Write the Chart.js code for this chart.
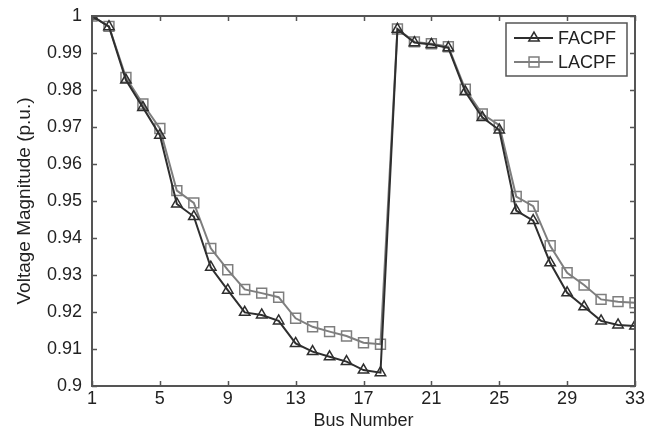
<!DOCTYPE html>
<html>
<head>
<meta charset="utf-8">
<script src="https://cdn.jsdelivr.net/npm/chart.js@4/dist/chart.umd.min.js"></script>
<style>
  html, body { margin: 0; padding: 0; background: #fff; }
  #wrap { width: 654px; height: 433px; }
</style>
</head>
<body>
<div id="wrap"><canvas id="chart"></canvas></div>
<script>
const busNumbers = [1, 2, 3, 4, 5, 6, 7, 8, 9, 10, 11, 12, 13, 14, 15, 16, 17,
  18, 19, 20, 21, 22, 23, 24, 25, 26, 27, 28, 29, 30, 31, 32, 33];
const facpf = [1.0, 0.9971, 0.9827, 0.9753, 0.9678, 0.9492, 0.9458, 0.9321, 0.9259,
  0.9199, 0.9192, 0.9176, 0.9115, 0.9093, 0.9079, 0.9066, 0.9043, 0.9036, 0.9964,
  0.9928, 0.9923, 0.9914, 0.9795, 0.9726, 0.9692, 0.9474, 0.9447, 0.9333, 0.9252,
  0.9214, 0.9176, 0.9165, 0.9162];
const lacpf = [1.0, 0.9972, 0.9834, 0.9762, 0.9696, 0.9528, 0.9495, 0.9372, 0.9314,
  0.9261, 0.9251, 0.9240, 0.9183, 0.9160, 0.9147, 0.9135, 0.9117, 0.9113, 0.9965,
  0.9930, 0.9925, 0.9917, 0.9802, 0.9735, 0.9705, 0.9512, 0.9486, 0.9379, 0.9306,
  0.9273, 0.9234, 0.9228, 0.9225];
const xTicks = [1, 5, 9, 13, 17, 21, 25, 29, 33];

const FONT = '"Liberation Sans", Arial, sans-serif';
const TEXT = '#222';
const AXIS = '#555';

// frame + inward ticks, matlab style
const framePlugin = {
  id: 'frame',
  afterDatasetsDraw(chart) {
    const { ctx, chartArea: a, scales: { x, y } } = chart;
    ctx.save();
    ctx.strokeStyle = AXIS;
    ctx.lineWidth = 2;
    ctx.strokeRect(a.left, a.top, a.right - a.left, a.bottom - a.top);
    ctx.lineWidth = 1.5;
    ctx.beginPath();
    const len = 5;
    y.ticks.forEach(t => {
      const py = Math.round(y.getPixelForValue(t.value)) + 0.5;
      ctx.moveTo(a.left, py); ctx.lineTo(a.left + len, py);
      ctx.moveTo(a.right, py); ctx.lineTo(a.right - len, py);
    });
    x.ticks.forEach(t => {
      const px = Math.round(x.getPixelForValue(t.value)) + 0.5;
      ctx.moveTo(px, a.bottom); ctx.lineTo(px, a.bottom - len);
      ctx.moveTo(px, a.top); ctx.lineTo(px, a.top + len);
    });
    ctx.stroke();
    ctx.restore();
  }
};

// legend box with line + marker samples
const legendPlugin = {
  id: 'boxLegend',
  afterDraw(chart) {
    const { ctx, chartArea: a } = chart;
    const bx = a.right - 129, by = a.top + 7, bw = 121, bh = 53;
    ctx.save();
    ctx.fillStyle = '#fff';
    ctx.fillRect(bx, by, bw, bh);
    ctx.strokeStyle = AXIS;
    ctx.lineWidth = 1.5;
    ctx.strokeRect(bx, by, bw, bh);
    chart.data.datasets.forEach((ds, i) => {
      const cy = by + 15 + i * 24;
      ctx.strokeStyle = ds.borderColor;
      ctx.lineWidth = ds.borderWidth;
      ctx.beginPath();
      ctx.moveTo(bx + 8, cy); ctx.lineTo(bx + 47, cy);
      ctx.stroke();
      ctx.fillStyle = 'rgba(0,0,0,0)';
      ctx.strokeStyle = ds.pointBorderColor;
      ctx.lineWidth = ds.pointBorderWidth;
      Chart.helpers.drawPoint(ctx, {
        pointStyle: ds.pointStyle, radius: ds.pointRadius, borderWidth: ds.pointBorderWidth
      }, bx + 28, cy);
      ctx.fillStyle = TEXT;
      ctx.font = '18px ' + FONT;
      ctx.textBaseline = 'middle';
      ctx.fillText(ds.label, bx + 52, cy + 1);
    });
    ctx.restore();
  }
};

const config = {
  type: 'line',
  data: {
    labels: busNumbers,
    datasets: [
      {
        label: 'FACPF',
        data: busNumbers.map((b, i) => ({ x: b, y: facpf[i] })),
        borderColor: '#2e2e2e',
        borderWidth: 2,
        pointStyle: 'triangle',
        pointRadius: 6,
        pointBorderWidth: 1.5,
        pointBorderColor: '#2e2e2e',
        pointBackgroundColor: 'rgba(0,0,0,0)',
        tension: 0
      },
      {
        label: 'LACPF',
        data: busNumbers.map((b, i) => ({ x: b, y: lacpf[i] })),
        borderColor: '#7e7e7e',
        borderWidth: 2,
        pointStyle: 'rect',
        pointRadius: 7,
        pointBorderWidth: 1.5,
        pointBorderColor: '#7e7e7e',
        pointBackgroundColor: 'rgba(0,0,0,0)',
        tension: 0
      }
    ]
  },
  options: {
    responsive: true,
    maintainAspectRatio: false,
    animation: false,
    layout: { padding: { top: 16, right: 19, left: 0, bottom: 0 } },
    scales: {
      x: {
        type: 'linear',
        min: 1,
        max: 33,
        afterBuildTicks: s => { s.ticks = xTicks.map(v => ({ value: v })); },
        afterFit: s => { s.height = 47; s.paddingLeft = 0; s.paddingRight = 0; },
        grid: { display: false, drawTicks: false },
        border: { display: false },
        ticks: { color: TEXT, font: { family: FONT, size: 18 }, padding: 2, maxRotation: 0 },
        title: { display: true, text: 'Bus Number', color: TEXT, font: { family: FONT, size: 18 }, padding: { top: 0, bottom: 1 } }
      },
      y: {
        min: 0.9,
        max: 1,
        ticks: {
          stepSize: 0.01, color: TEXT, font: { family: FONT, size: 18 }, padding: 10,
          callback: v => String(Number(v.toFixed(2)))
        },
        afterFit: s => { s.width = 92; s.paddingTop = 0; s.paddingBottom = 0; },
        grid: { display: false, drawTicks: false },
        border: { display: false },
        title: { display: true, text: 'Voltage Magnitude (p.u.)', color: TEXT, font: { family: FONT, size: 19 }, padding: { top: 13, bottom: 0 } }
      }
    },
    plugins: {
      legend: { display: false },
      tooltip: { enabled: false }
    }
  },
  plugins: [framePlugin, legendPlugin]
};

new Chart(document.getElementById('chart'), config);
</script>
</body>
</html>
